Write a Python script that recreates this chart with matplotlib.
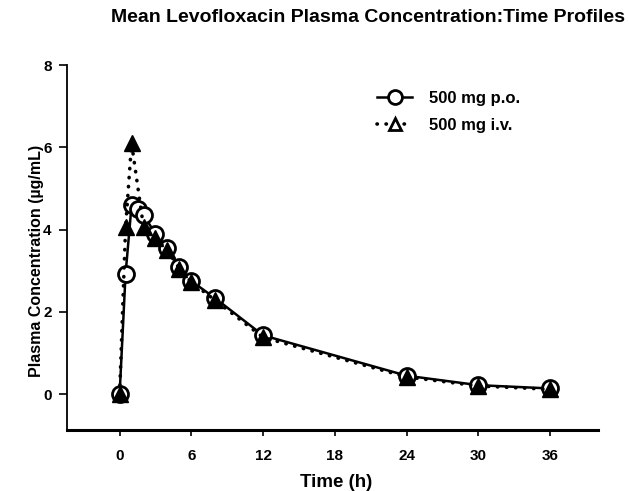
import matplotlib.pyplot as plt
import numpy as np

plt.rcParams['font.family'] = ['Liberation Sans', 'DejaVu Sans']
plt.rcParams['font.weight'] = 'bold'

# Sampling times (h) and mean concentrations (ug/mL)
time_po = [0, 0.5, 1, 1.5, 2, 3, 4, 5, 6, 8, 12, 24, 30, 36]
conc_po = [0, 2.93, 4.59, 4.5, 4.35, 3.9, 3.55, 3.08, 2.75, 2.33, 1.43, 0.45, 0.22, 0.14]

time_iv = [0, 0.5, 1, 2, 3, 4, 5, 6, 8, 12, 24, 30, 36]
conc_iv = [0, 4.06, 6.1, 4.06, 3.8, 3.5, 3.05, 2.72, 2.28, 1.38, 0.42, 0.2, 0.12]

x_ticks = [0, 6, 12, 18, 24, 30, 36]
y_ticks = [0, 2, 4, 6, 8]

fig = plt.figure(figsize=(6.29, 4.91), dpi=100)
ax = fig.add_axes([0.1065, 0.1242, 0.8442, 0.7434])

# p.o. curve: solid line, open circles
ax.plot(time_po, conc_po, color='black', linewidth=1.8, linestyle='-',
        marker='o', markersize=11.5, markerfacecolor='white',
        markeredgecolor='black', markeredgewidth=2, label='500 mg p.o.', zorder=2)
# i.v. curve: dotted line, filled triangles
ax.plot(time_iv, conc_iv, color='black', linewidth=2.6, linestyle=(0, (0.1, 2.4)),
        dash_capstyle='round', marker='^', markersize=11, markerfacecolor='black',
        markeredgecolor='black', label='500 mg i.v.', zorder=3)

ax.set_xlim(-4.4, 40)
ax.set_ylim(-0.87, 8)
ax.set_xticks(x_ticks)
ax.set_yticks(y_ticks)
ax.tick_params(axis='x', direction='out', length=4, width=1.2, labelsize=11, pad=10)
ax.tick_params(axis='y', direction='out', length=6, width=1.2, labelsize=11, pad=5)
for lab in ax.get_xticklabels() + ax.get_yticklabels():
    lab.set_fontweight('bold')

ax.spines['top'].set_visible(False)
ax.spines['right'].set_visible(False)
ax.spines['left'].set_linewidth(1.3)
ax.spines['bottom'].set_linewidth(2.2)

ax.set_xlabel('Time (h)', fontsize=13.5, fontweight='bold', va='center')
ax.xaxis.set_label_coords(0.506, -0.145)
ax.set_ylabel('Plasma Concentration (\u00b5g/mL)', fontsize=11.5, fontweight='bold', va='center')
ax.yaxis.set_label_coords(-0.0565, 0.463)

fig.text(368 / 629, 1 - 18 / 491, 'Mean Levofloxacin Plasma Concentration:Time Profiles',
         ha='center', va='center', fontsize=14, fontweight='bold')

leg = ax.legend(loc='upper left', bbox_to_anchor=(0.584, 0.93), frameon=False,
                fontsize=12, handlelength=2.1, handletextpad=1.0, labelspacing=0.75,
                borderpad=0, borderaxespad=0)
for t in leg.get_texts():
    t.set_fontweight('bold')
leg.legend_handles[0].set_markersize(10)
leg.legend_handles[1].set_markerfacecolor('white')
leg.legend_handles[1].set_markeredgewidth(2)
leg.legend_handles[1].set_markersize(8)

fig.savefig('out.png', dpi=100)
